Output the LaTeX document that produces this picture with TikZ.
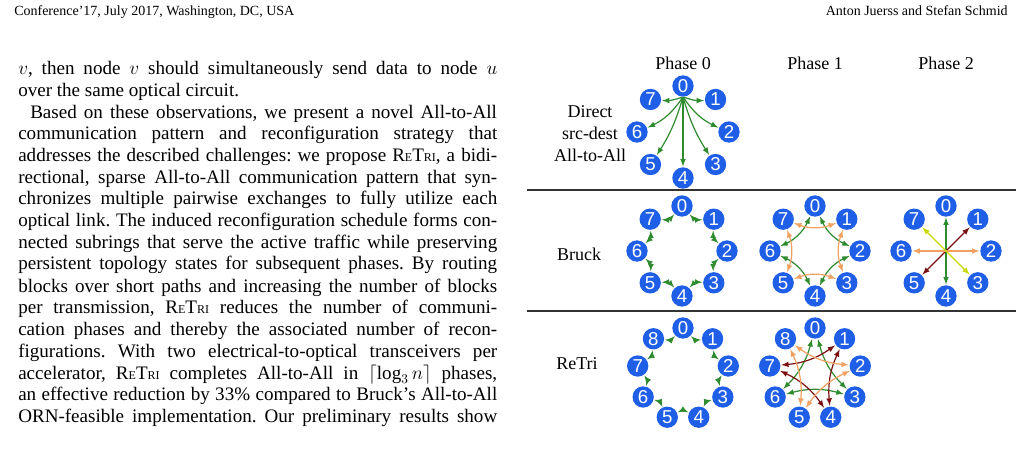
\documentclass[tikz,border=0pt]{standalone}
\usepackage{fontspec}
\setmainfont{Liberation Serif}
\newfontfamily\numfont{Liberation Sans}
\usetikzlibrary{calc}
\definecolor{nb}{HTML}{1F5FE8}
\definecolor{eg}{HTML}{2E8B2E}
\definecolor{eo}{HTML}{F0A060}
\definecolor{er}{HTML}{7A1010}
\definecolor{ey}{HTML}{C8D800}
\newcommand{\RT}{R{\small E}T{\small RI}}
\newcommand{\myring}[5]{% prefix, cx, cy, n, r
  \foreach \k in {0,...,\numexpr#4-1\relax}{
    \pgfmathsetmacro{\ang}{-90+360*\k/#4}
    \node[vn] (#1\k) at ($(#2,#3)+({#5*cos(\ang)},{#5*sin(\ang)})$) {\k};
  }}
\tikzset{
  vn/.style={circle,fill=nb,text=white,inner sep=0pt,minimum size=16pt,font=\numfont\fontsize{14}{14}\selectfont},
  ed/.style={draw=#1,line width=0.9pt,-latex,shorten >=0.5pt,shorten <=0.5pt},
  bd/.style={draw=#1,line width=0.9pt,latex-latex,shorten >=0.5pt,shorten <=0.5pt},
  tl/.style={anchor=base west,inner sep=0pt,font=\fontsize{14.3}{16}\selectfont},
  fl/.style={font=\fontsize{13.5}{16}\selectfont,inner sep=0pt}
}
\begin{document}
\frenchspacing
\begin{tikzpicture}[x=0.75pt,y=-0.75pt]
\useasboundingbox (0,0) rectangle (1022,456);
% header
\node[anchor=base west,inner sep=0pt,font=\fontsize{10.5}{12}\selectfont] (h1) at (14,16) {Conference'17, July 2017, Washington, DC, USA};
\node[anchor=base east,inner sep=0pt,font=\fontsize{10.5}{12}\selectfont] (h2) at (1008,16) {Anton Juerss and Stefan Schmid};
% text
\def\W{359.25pt}
\node[tl] (l1) at (18,75) {\makebox[\W][s]{$v$, then node $v$ should simultaneously send data to node $u$}};
\node[tl] (l2) at (18,97) {over the same optical circuit.};
\node[tl] (l3) at (30,119) {\makebox[350pt][s]{Based on these observations, we present a novel All-to-All}};
\node[tl] (l4) at (18,140) {\makebox[\W][s]{communication pattern and reconfiguration strategy that}};
\node[tl] (l5) at (18,162) {\makebox[\W][s]{addresses the described challenges: we propose \RT, a bidi-}};
\node[tl] (l6) at (18,184) {\makebox[\W][s]{rectional, sparse All-to-All communication pattern that syn-}};
\node[tl] (l7) at (18,205) {\makebox[\W][s]{chronizes multiple pairwise exchanges to fully utilize each}};
\node[tl] (l8) at (18,227) {\makebox[\W][s]{optical link. The induced reconfiguration schedule forms con-}};
\node[tl] (l9) at (18,249) {\makebox[\W][s]{nected subrings that serve the active traffic while preserving}};
\node[tl] (l10) at (18,270) {\makebox[\W][s]{persistent topology states for subsequent phases. By routing}};
\node[tl] (l11) at (18,292) {\makebox[\W][s]{blocks over short paths and increasing the number of blocks}};
\node[tl] (l12) at (18,314) {\makebox[\W][s]{per transmission, \RT\ reduces the number of communi-}};
\node[tl] (l13) at (18,335) {\makebox[\W][s]{cation phases and thereby the associated number of recon-}};
\node[tl] (l14) at (18,357) {\makebox[\W][s]{figurations. With two electrical-to-optical transceivers per}};
\node[tl] (l15) at (18,379) {\makebox[\W][s]{accelerator, \RT\ completes All-to-All in $\lceil\log_3 n\rceil$ phases,}};
\node[tl] (l16) at (18,400) {\makebox[\W][s]{an effective reduction by 33\% compared to Bruck's All-to-All}};
\node[tl] (l17) at (18,422) {\makebox[\W][s]{ORN-feasible implementation. Our preliminary results show}};
% figure labels
\node[fl] (p0) at (683,63) {Phase 0};
\node[fl] (p1) at (815,63) {Phase 1};
\node[fl] (p2) at (946,63) {Phase 2};
\node[fl,align=center,font=\fontsize{13.5}{16.5}\selectfont] (r1) at (590,134) {Direct\\src-dest\\All-to-All};
\node[fl] (r2) at (579,254) {Bruck};
\node[fl] (r3) at (577,364) {ReTri};
\coordinate (s1a) at (527,190); \coordinate (s1b) at (1016,190);
\coordinate (s2a) at (527,311); \coordinate (s2b) at (1016,311);
\draw[line width=0.8pt,black!80] (s1a) -- (s1b) (s2a) -- (s2b);
% rings
\myring{a}{683}{132}{8}{46}
\myring{b}{682}{251}{8}{45}
\myring{c}{815}{251}{8}{45}
\myring{d}{946}{251}{8}{45}
\myring{e}{683}{374}{9}{46}
\myring{f}{815}{374}{9}{46}
% direct
\draw[ed=eg] (a0.south) to[bend right=10] (a1);
\draw[ed=eg] (a0.south) to[bend right=15] (a2);
\draw[ed=eg] (a0.south) to[bend right=8] (a3);
\draw[ed=eg] (a0.south) -- (a4);
\draw[ed=eg] (a0.south) to[bend left=8] (a5);
\draw[ed=eg] (a0.south) to[bend left=15] (a6);
\draw[ed=eg] (a0.south) to[bend left=10] (a7);
% bruck phase 0
\foreach \i/\j in {0/1,1/2,2/3,3/4,4/5,5/6,6/7,7/0}
  \draw[bd=eg] (b\i) to[bend right=25] (b\j);
% bruck phase 1
\foreach \i/\j in {0/2,2/4,4/6,6/0}
  \draw[bd=eg] (c\i) to[bend right=20] (c\j);
\foreach \i/\j in {1/3,3/5,5/7,7/1}
  \draw[bd=eo] (c\i) to[bend right=20] (c\j);
% bruck phase 2
\draw[bd=eg] (d0) -- (d4);
\draw[bd=er] (d1) -- (d5);
\draw[bd=eo] (d2) -- (d6);
\draw[bd=ey] (d3) -- (d7);
% retri phase 0
\foreach \i/\j in {0/1,1/2,2/3,3/4,4/5,5/6,6/7,7/8,8/0}
  \draw[bd=eg] (e\i) to[bend right=25] (e\j);
% retri phase 1
\foreach \i/\j in {0/3,3/6,6/0}
  \draw[bd=eg] (f\i) to[bend right=15] (f\j);
\foreach \i/\j in {1/4,4/7,7/1}
  \draw[bd=er] (f\i) to[bend right=15] (f\j);
\foreach \i/\j in {2/5,5/8,8/2}
  \draw[bd=eo] (f\i) to[bend right=15] (f\j);
\end{tikzpicture}
\end{document}
